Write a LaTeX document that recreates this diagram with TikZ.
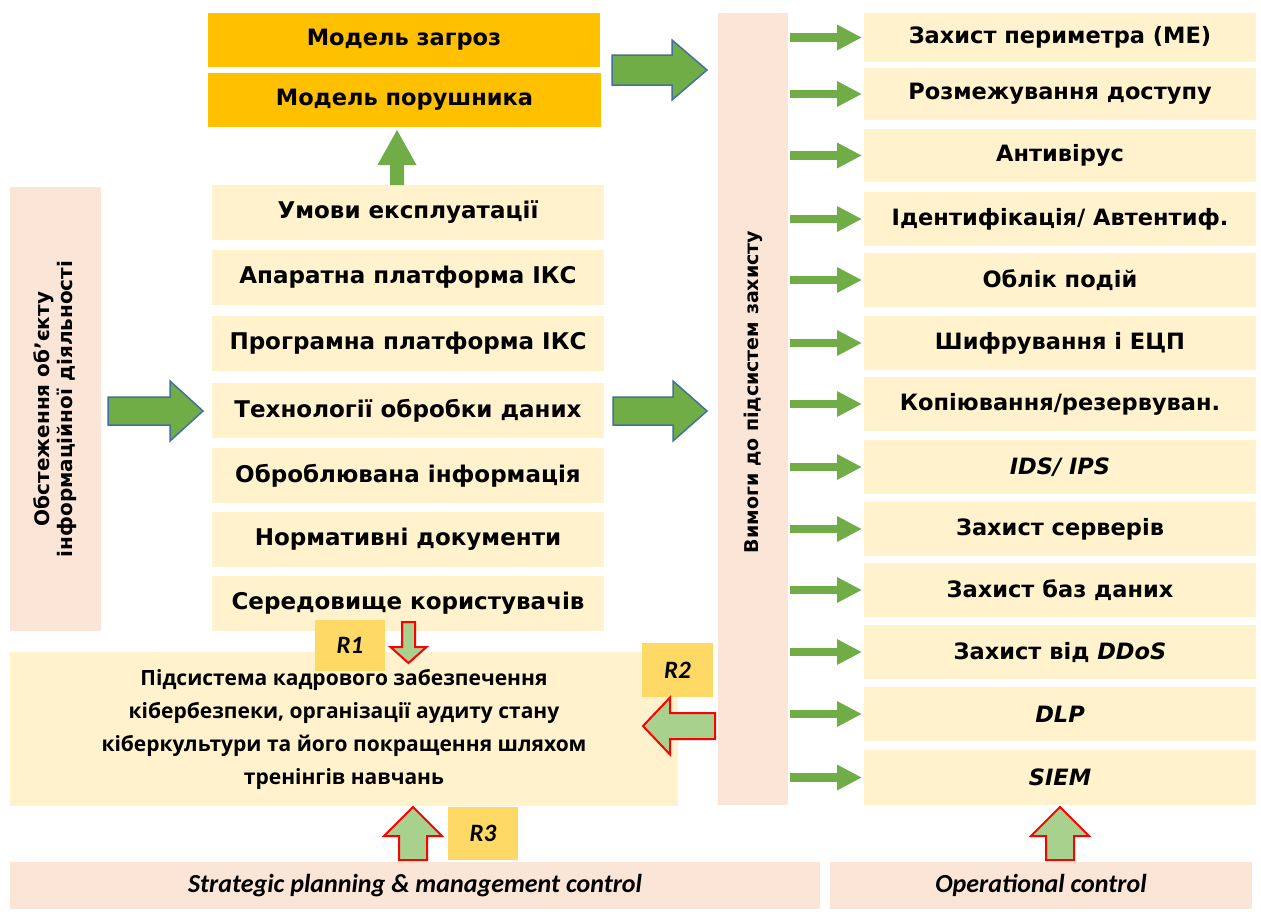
\documentclass[tikz,border=0pt]{standalone}
\usepackage{fontspec}
\setmainfont{DejaVu Sans}
\newfontfamily\osans{Open Sans}
\newfontfamily\carl{Carlito}
\usetikzlibrary{arrows.meta}
\definecolor{orangeY}{HTML}{FFC000}
\definecolor{creamC}{HTML}{FFF2CC}
\definecolor{peachC}{HTML}{FBE5D6}
\definecolor{goldC}{HTML}{FFD966}
\definecolor{greenC}{HTML}{70AD47}
\definecolor{lgreenC}{HTML}{A9D18E}
\definecolor{blueO}{HTML}{41719C}
\definecolor{redO}{HTML}{FF0000}
% block arrow: style, tail x, tail y, angle, length, head length, head width, shaft width
\newcommand\BArrow[8]{%
  \begin{scope}[shift={(#2,#3)},rotate=#4]
    \path[#1] (0,-#8/2) -- (#5-#6,-#8/2) -- (#5-#6,-#7/2) -- (#5,0) -- (#5-#6,#7/2) -- (#5-#6,#8/2) -- (0,#8/2) -- cycle;
  \end{scope}}
\begin{document}
\begin{tikzpicture}[x=1pt,y=-1pt,
  every node/.style={inner sep=0pt,outer sep=0pt},
  ybox/.style={fill=orangeY,anchor=north west,font=\fontsize{22.5}{26}\selectfont\bfseries},
  cbox/.style={fill=creamC,anchor=north west,font=\fontsize{23}{27}\selectfont\bfseries},
  rcbox/.style={fill=creamC,anchor=north west,font=\fontsize{22.5}{26}\selectfont\bfseries},
  pbox/.style={fill=peachC,anchor=north west},
  rbox/.style={fill=goldC,anchor=north west,font=\carl\fontsize{25}{28}\selectfont\bfseries\itshape},
  bigarrow/.style={fill=greenC,draw=blueO,line width=1.5pt,line join=miter},
  plainarrow/.style={fill=greenC},
  redarrow/.style={fill=lgreenC,draw=redO,line width=2pt,line join=miter},
  thinarrow/.style={draw=greenC,line width=8.5pt,-{Triangle[length=25pt,width=24pt]},shorten >=2pt}
]
\useasboundingbox[fill=white] (0,0) rectangle (1261,911);

% top models
\node[ybox,minimum width=392pt,minimum height=54pt] (mz) at (208,13) {Модель загроз};
\node[ybox,minimum width=393pt,minimum height=54pt] (mp) at (208,73) {Модель порушника};

% left items column
\node[cbox,minimum width=392pt,minimum height=55pt] (l1) at (212,185) {Умови експлуатації};
\node[cbox,minimum width=392pt,minimum height=55pt] (l2) at (212,250) {Апаратна платформа ІКС};
\node[cbox,minimum width=392pt,minimum height=55pt] (l3) at (212,316) {Програмна платформа ІКС};
\node[cbox,minimum width=392pt,minimum height=55pt] (l4) at (212,383) {Технології обробки даних};
\node[cbox,minimum width=392pt,minimum height=55pt] (l5) at (212,448) {Оброблювана інформація};
\node[cbox,minimum width=392pt,minimum height=55pt] (l6) at (212,512) {Нормативні документи};
\node[cbox,minimum width=392pt,minimum height=55pt] (l7) at (212,576) {Середовище користувачів};

% left vertical box
\node[pbox,anchor=center,rotate=90,minimum width=444pt,minimum height=91pt,align=center,
  font=\fontsize{20}{23}\selectfont\bfseries] (obs) at (55.5,409) {Обстеження об’єкту\\інформаційної діяльності};

% requirements vertical box and its label
\node[pbox,anchor=center,rotate=90,minimum width=792pt,minimum height=70pt] (req) at (753,409) {};
\node[rotate=90,font=\fontsize{19}{23}\selectfont\bfseries] (reqt) at (753,392) {Вимоги до підсистем захисту};

% right column
\node[rcbox,minimum width=392pt,minimum height=49pt] (r1) at (864,13) {Захист периметра (МЕ)};
\node[rcbox,minimum width=392pt,minimum height=52pt] (r2) at (864,68) {Розмежування доступу};
\node[rcbox,minimum width=392pt,minimum height=53pt] (r3) at (864,129) {Антивірус};
\node[rcbox,minimum width=392pt,minimum height=54pt] (r4) at (864,192) {Ідентифікація/ Автентиф.};
\node[rcbox,minimum width=392pt,minimum height=54pt] (r5) at (864,253) {Облік подій};
\node[rcbox,minimum width=392pt,minimum height=54pt] (r6) at (864,316) {Шифрування і ЕЦП};
\node[rcbox,minimum width=392pt,minimum height=54pt] (r7) at (864,377) {Копіювання/резервуван.};
\node[rcbox,minimum width=392pt,minimum height=54pt] (r8) at (864,440) {\itshape IDS/ IPS};
\node[rcbox,minimum width=392pt,minimum height=54pt] (r9) at (864,502) {Захист серверів};
\node[rcbox,minimum width=392pt,minimum height=54pt] (r10) at (864,563) {Захист баз даних};
\node[rcbox,minimum width=392pt,minimum height=54pt] (r11) at (864,625) {Захист від \textit{DDoS}};
\node[rcbox,minimum width=392pt,minimum height=54pt] (r12) at (864,687) {\itshape DLP};
\node[rcbox,minimum width=392pt,minimum height=55pt] (r13) at (864,750) {\itshape SIEM};

\foreach \i in {1,...,13} {
  \draw[thinarrow] ([xshift=2pt]req.south |- r\i.west) -- (r\i.west);
}

% bottom subsystem box
\node[cbox,minimum width=668pt,minimum height=154pt,align=center,
  font=\osans\fontsize{21}{33}\selectfont\bfseries] (sub) at (10,652)
  {Підсистема кадрового забезпечення\\кібербезпеки, організації аудиту стану\\кіберкультури та його покращення шляхом\\тренінгів навчань};

% R labels
\node[rbox,minimum width=70pt,minimum height=51pt] (R1) at (315,620) {R1};
\node[rbox,minimum width=71pt,minimum height=54pt] (R2) at (642,643) {R2};
\node[rbox,minimum width=70pt,minimum height=53pt] (R3) at (448,807) {R3};

% block arrows
\BArrow{plainarrow}{397}{185}{90}{55}{35}{39}{14}
\BArrow{bigarrow}{108}{411}{0}{95}{33}{60}{28}
\BArrow{bigarrow}{613}{411}{0}{94}{34}{60}{28}
\BArrow{bigarrow}{612}{70}{0}{95}{35}{60}{30}

% red-outlined arrows
\BArrow{redarrow}{408.5}{622}{270}{41}{16}{36}{13}
\BArrow{redarrow}{715}{726}{180}{72}{27}{57}{26}
\BArrow{redarrow}{413}{860}{90}{53}{29}{58}{28}
\BArrow{redarrow}{1060}{860}{90}{53}{29}{58}{28}

% bottom bars
\node[pbox,minimum width=810pt,minimum height=47pt,font=\carl\fontsize{26}{30}\selectfont\bfseries\itshape] (strat) at (10,862) {Strategic planning \& management control};
\node[pbox,minimum width=422pt,minimum height=47pt,font=\carl\fontsize{26}{30}\selectfont\bfseries\itshape] (oper) at (830,862) {Operational control};
\end{tikzpicture}
\end{document}
